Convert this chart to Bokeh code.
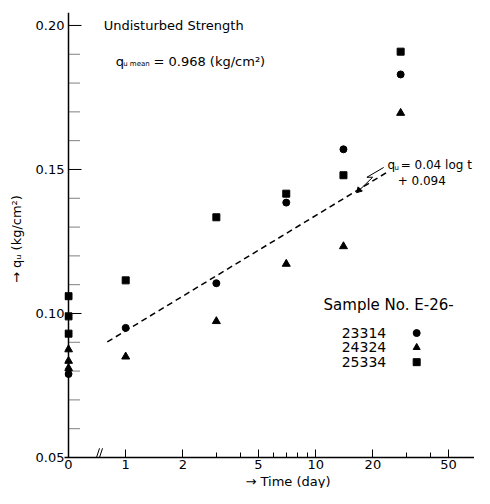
import numpy as np
from bokeh.plotting import figure
from bokeh.models import Range1d, FixedTicker, Label, Title
from bokeh.embed import file_html
from bokeh.resources import INLINE

# ---- data ----
T_ZERO = 0.5  # position where "day 0" is drawn on the broken log axis

s23314_days = [0, 1, 3, 7, 14, 28]
s23314_qu = [0.079, 0.095, 0.1105, 0.1385, 0.157, 0.183]

s24324_days = [0, 0, 0, 1, 3, 7, 14, 28]
s24324_qu = [0.0875, 0.0835, 0.081, 0.085, 0.0973, 0.1172, 0.1233, 0.1696]

s25334_days = [0, 0, 0, 1, 3, 7, 14, 28]
s25334_qu = [0.106, 0.099, 0.093, 0.1115, 0.1334, 0.1416, 0.148, 0.1909]

sample_ids = ["23314", "24324", "25334"]
sample_markers = ["circle", "triangle", "square"]

fit_slope = 0.04
fit_intercept = 0.094
fit_days = [0.8, 24.0]

x_tick_days = [0, 1, 2, 5, 10, 20, 50]
x_tick_labels = ["0", "1", "2", "5", "10", "20", "50"]
x_minor_days = [3, 4, 6, 7, 8, 9, 30, 40]
y_ticks = [0.05, 0.10, 0.15, 0.20]
y_tick_labels = ["0.05", "0.10", "0.15", "0.20"]
y_minor = [0.06, 0.07, 0.08, 0.09, 0.11, 0.12, 0.13, 0.14, 0.16, 0.17, 0.18, 0.19]

FONT = "DejaVu Sans"
DEC = 190.0  # pixels per decade on the time axis


def xpos(days):
    d = np.asarray(days, dtype=float)
    return np.where(d == 0, T_ZERO, d)


def xshift(px):
    # time value that lies px pixels right of the day-0 position
    return T_ZERO * 10 ** (px / DEC)


p = figure(width=474, height=488, x_axis_type="log",
           x_range=Range1d(xshift(-4), xshift(406)), y_range=Range1d(0.05, 0.2045),
           output_backend="svg", toolbar_location=None,
           min_border_left=64, min_border_right=0, min_border_top=12, min_border_bottom=31)
p.outline_line_color = None
p.grid.visible = False
p.background_fill_color = "white"
p.border_fill_color = "white"

# x axis
xa = p.xaxis[0]
xtv = [float(v) for v in xpos(x_tick_days)]
xa.ticker = FixedTicker(ticks=xtv, minor_ticks=x_minor_days)
xa.major_label_overrides = {v: l for v, l in zip(xtv, x_tick_labels)}
xa.major_tick_in = 8
xa.major_tick_out = 0
xa.minor_tick_in = 5
xa.minor_tick_out = 0
xa.axis_line_width = 1.5
xa.major_label_text_font = FONT
xa.major_label_text_font_size = "13px"
xa.major_label_standoff = 2
xa.major_label_text_color = "black"

# y axis (labels only; line and ticks drawn at the day-0 position)
ya = p.yaxis[0]
ya.ticker = FixedTicker(ticks=y_ticks, minor_ticks=y_minor)
ya.major_label_overrides = {v: l for v, l in zip(y_ticks, y_tick_labels)}
ya.axis_line_color = None
ya.major_tick_line_color = None
ya.minor_tick_line_color = None
ya.major_tick_out = 0
ya.minor_tick_out = 0
ya.major_label_text_font = FONT
ya.major_label_text_font_size = "13px"
ya.major_label_standoff = 0
ya.major_label_text_color = "black"
ya.axis_label = "\u2192  q\u1d64  (kg/cm\u00b2)"
ya.axis_label_text_font = FONT
ya.axis_label_text_font_size = "13px"
ya.axis_label_text_font_style = "normal"
ya.axis_label_text_color = "black"
ya.axis_label_standoff = 9

p.add_layout(Title(text="\u2192 Time  (day)", align="left", offset=181, standoff=0,
                   text_font=FONT, text_font_size="13px", text_font_style="normal",
                   text_color="black"), "below")

# y axis line + ticks at day 0
p.segment(x0=[T_ZERO], y0=[0.05], x1=[T_ZERO], y1=[0.2045], line_color="black", line_width=1.5)
p.segment(x0=[T_ZERO] * len(y_ticks), y0=y_ticks, x1=[xshift(13)] * len(y_ticks), y1=y_ticks,
          line_color="black", line_width=1)
p.segment(x0=[T_ZERO] * len(y_minor), y0=y_minor, x1=[xshift(12)] * len(y_minor), y1=y_minor,
          line_color="black", line_width=1, line_dash="1 1")

# axis break mark
brk = [xshift(28), xshift(31)]
p.segment(x0=brk, y0=[0.05, 0.05], x1=[xshift(31), xshift(34)], y1=[0.0532, 0.0532],
          line_color="black", line_width=1)

# regression line
fit_q = [fit_slope * np.log10(d) + fit_intercept for d in fit_days]
p.line(fit_days, fit_q, line_color="black", line_width=1.5, line_dash="6 4")

# data points
p.scatter(xpos(s23314_days), s23314_qu, marker="circle", size=7, color="black")
p.scatter(xpos(s24324_days), s24324_qu, marker="triangle", size=8, color="black")
p.scatter(xpos(s25334_days), s25334_qu, marker="square", size=7, color="black")


def lab(x, y, t, size="12px"):
    p.add_layout(Label(x=x, y=y, text=t, text_font=FONT, text_font_size=size,
                       text_align="left", text_baseline="middle", text_color="black"))


lab(0.766, 0.2, "Undisturbed  Strength", "13px")
lab(0.886, 0.1875, "q", "13px")
lab(0.97, 0.1865, "u mean", "7px")
lab(1.40, 0.1875, "= 0.968 (kg/cm\u00b2)", "13px")

lab(23.9, 0.1517, "q", "12px")
lab(26.0, 0.1505, "u", "7px")
lab(28.0, 0.1517, "= 0.04 log t", "12px")
lab(27.0, 0.146, "+ 0.094", "12px")

# zig-zag arrow to the fit line
arrow_x = [22.8, 18.6, 19.95, 16.6]
arrow_y = [0.1507, 0.1473, 0.1473, 0.1422]
p.line(arrow_x, arrow_y, line_color="black", line_width=1)
p.scatter([16.9], [0.1428], marker="triangle", size=6, angle=2.356, color="black")

# legend
lab(11.0, 0.1030, "Sample No. E-26-", "15px")
legend_y = [0.0932, 0.0882, 0.0831]
for sid, yv in zip(sample_ids, legend_y):
    lab(13.7, yv, sid, "14px")
p.scatter([34.0] * 3, legend_y, marker=sample_markers, size=7, color="black")

open("out.html", "w").write(file_html(p, INLINE))
